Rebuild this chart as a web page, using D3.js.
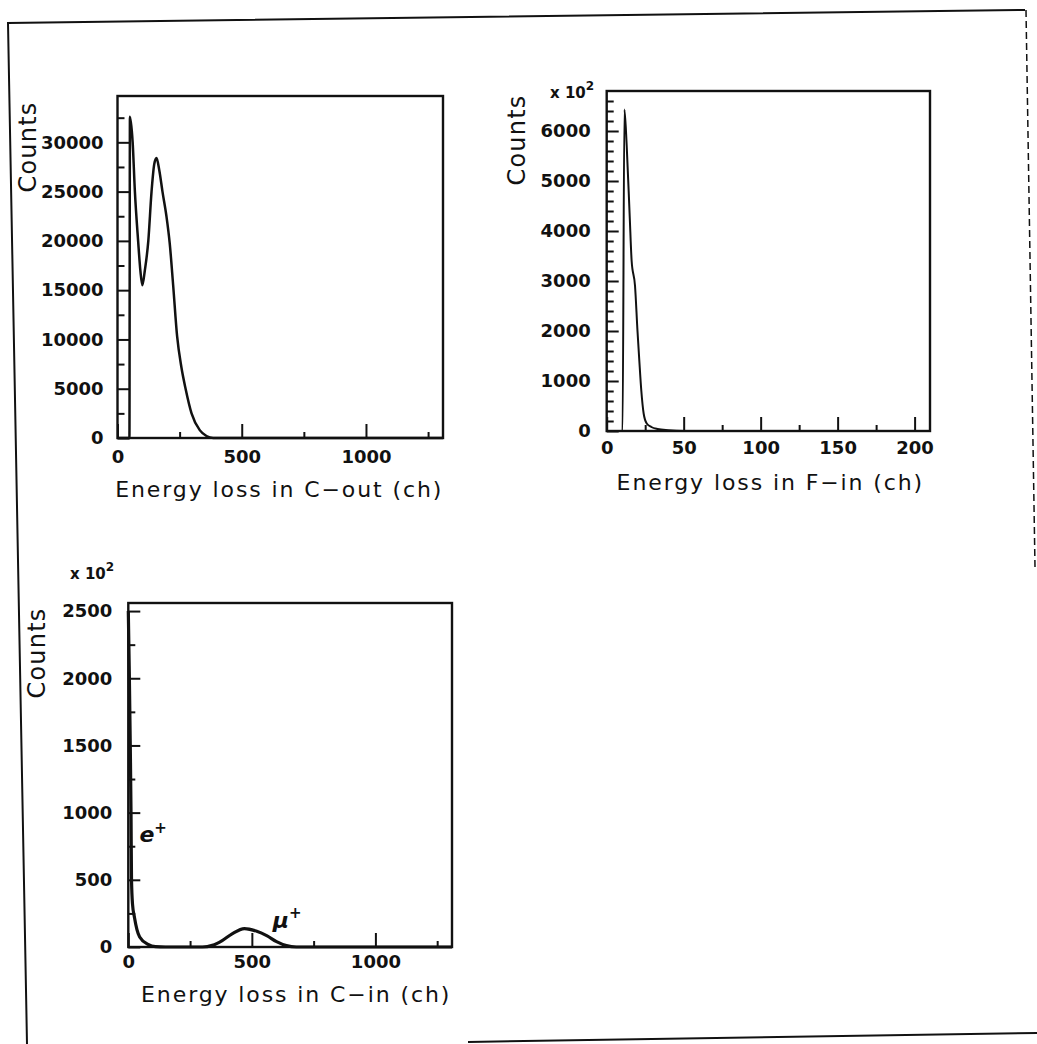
<!DOCTYPE html>
<html>
<head>
<meta charset="utf-8">
<script src="https://cdn.jsdelivr.net/npm/d3@7/dist/d3.min.js"></script>
<style>
  body { margin: 0; background: #fff; }
  svg text { font-family: "DejaVu Sans", sans-serif; fill: #111; }
</style>
</head>
<body>
<div id="canvas"></div>
<script>
"use strict"

/* all values, channel -> counts */

// energy loss in C-out
const coutChannels = [0, 48, 50, 61, 70, 83, 92, 100, 110, 124, 137, 148, 157, 168, 181, 197, 210, 224, 240, 257, 274, 298, 331, 358, 385, 1310];
const coutCounts   = [0, 0, 32600, 30000, 25000, 20000, 17000, 15500, 17000, 20000, 25000, 27800, 28400, 27200, 25000, 22500, 19800, 15500, 10300, 7200, 5000, 2500, 800, 200, 0, 0];
const coutXTicks = [0, 500, 1000];
const coutXMinor = [250, 750, 1250];
const coutYTicks = [0, 5000, 10000, 15000, 20000, 25000, 30000];
const coutYMinor = [2500, 7500, 12500, 17500, 22500, 27500, 32500];

// energy loss in F-in (counts in units of 10^2)
const finChannels = [0, 10.3, 11.5, 13, 15, 16.2, 18.4, 20, 21.2, 22.5, 24, 26, 29, 33, 40, 50, 210];
const finCounts   = [0, 0, 6430, 5700, 4250, 3400, 2900, 2000, 1400, 800, 350, 150, 80, 40, 15, 0, 0];
const finXTicks = [0, 50, 100, 150, 200];
const finXMinor = [25, 75, 125, 175];
const finYTicks = [0, 1000, 2000, 3000, 4000, 5000, 6000];
const finYMinor = d3.range(200, 6800, 200).filter(v => v % 1000 !== 0);

// energy loss in C-in (counts in units of 10^2)
const cinChannels = [0, 4, 8, 11, 13, 17, 25, 35, 46, 80, 110, 150, 300, 340, 380, 420, 470, 520, 560, 600, 640, 680, 1310];
const cinCounts   = [2500, 2050, 1500, 1000, 500, 320, 220, 130, 75, 20, 3, 0, 0, 12, 48, 98, 137, 117, 85, 40, 10, 0, 0];
const cinXTicks = [0, 500, 1000];
const cinXMinor = [250, 750, 1250];
const cinYTicks = [0, 500, 1000, 1500, 2000, 2500];
const cinYMinor = [250, 750, 1250, 1750, 2250];

let drawing = d3.select("#canvas")
    .append("svg")
    .attr("width", 1037)
    .attr("height", 1044);

// scanned page border
drawing.append("path")
    .attr("d", "M27,1044 L8,23 L1025,10")
    .attr("fill", "none").attr("stroke", "#111").attr("stroke-width", 2);
drawing.append("path")
    .attr("d", "M1026,10 L1035,567")
    .attr("fill", "none").attr("stroke", "#111").attr("stroke-width", 1.5)
    .attr("stroke-dasharray", "7,4");
drawing.append("path")
    .attr("d", "M468,1042 L1037,1033")
    .attr("fill", "none").attr("stroke", "#111").attr("stroke-width", 2);

function styleAxis(g) {
    g.select(".domain").remove();
    g.selectAll("line").attr("stroke", "#111").attr("stroke-width", 2);
    g.selectAll("text")
        .attr("font-family", "DejaVu Sans")
        .attr("font-weight", "bold")
        .attr("font-size", 18)
        .attr("fill", "#111");
}

function panel(p) {
    const x = d3.scaleLinear().domain(p.xDomain).range([p.left, p.right]);
    const y = d3.scaleLinear().domain(p.yDomain).range([p.bottom, p.top]);
    const g = drawing.append("g");

    // y axis, ticks pointing inward
    g.append("g").attr("transform", `translate(${p.left},0)`)
        .call(d3.axisLeft(y).tickValues(p.yTicks).tickSizeInner(-12).tickSizeOuter(0)
            .tickPadding(p.yPad).tickFormat(d3.format("d")))
        .call(styleAxis);
    g.append("g").attr("transform", `translate(${p.left},0)`)
        .call(d3.axisLeft(y).tickValues(p.yMinor).tickSizeInner(-7).tickSizeOuter(0).tickFormat(""))
        .call(styleAxis);

    // x axis
    g.append("g").attr("transform", `translate(0,${p.bottom})`)
        .call(d3.axisBottom(x).tickValues(p.xTicks).tickSizeInner(-14).tickSizeOuter(0)
            .tickPadding(p.xPad).tickFormat(d3.format("d")))
        .call(styleAxis);
    g.append("g").attr("transform", `translate(0,${p.bottom})`)
        .call(d3.axisBottom(x).tickValues(p.xMinor).tickSizeInner(-6).tickSizeOuter(0).tickFormat(""))
        .call(styleAxis);

    // frame
    g.append("rect")
        .attr("x", p.left).attr("y", p.top)
        .attr("width", p.right - p.left).attr("height", p.bottom - p.top)
        .attr("fill", "none").attr("stroke", "#111").attr("stroke-width", 2.4);

    // spectrum
    const pts = p.channels.map((c, i) => [c, p.counts[i]]);
    g.append("path")
        .datum(pts)
        .attr("fill", "none")
        .attr("stroke", "#111")
        .attr("stroke-width", p.lineWidth)
        .attr("stroke-linejoin", "round")
        .attr("d", d3.line().x(d => x(d[0])).y(d => y(d[1])).curve(d3.curveMonotoneX));

    // labels
    g.append("text")
        .attr("transform", `translate(${p.countsX},${p.countsY}) rotate(-90)`)
        .attr("text-anchor", "middle")
        .attr("dominant-baseline", "central")
        .attr("font-size", 24)
        .attr("letter-spacing", 1.2)
        .text("Counts");
    g.append("text")
        .attr("x", (p.left + p.right) / 2 + p.labelShift)
        .attr("y", p.labelY)
        .attr("text-anchor", "middle")
        .attr("font-size", 22)
        .attr("letter-spacing", 1.9)
        .text(p.xLabel);

    if (p.scale) {
        const t = g.append("text")
            .attr("x", p.scaleX).attr("y", p.scaleY)
            .attr("font-size", 15).attr("font-weight", "bold");
        t.append("tspan").text("x 10");
        t.append("tspan").attr("dy", -8).attr("font-size", 12).text("2");
    }
    return { x, y, g };
}

panel({
    left: 117.5, right: 443, top: 96, bottom: 438,
    xDomain: [0, 1310], yDomain: [0, 34700],
    xTicks: coutXTicks, xMinor: coutXMinor, yTicks: coutYTicks, yMinor: coutYMinor,
    xPad: 12, yPad: 14,
    channels: coutChannels, counts: coutCounts, lineWidth: 2.5,
    countsX: 28, countsY: 147,
    xLabel: "Energy loss in C\u2212out (ch)", labelY: 497, labelShift: -1,
    scale: false
});

panel({
    left: 606.7, right: 930, top: 91, bottom: 431,
    xDomain: [0, 210], yDomain: [0, 6800],
    xTicks: finXTicks, xMinor: finXMinor, yTicks: finYTicks, yMinor: finYMinor,
    xPad: 10, yPad: 16,
    channels: finChannels, counts: finCounts, lineWidth: 2,
    countsX: 517, countsY: 140,
    xLabel: "Energy loss in F\u2212in  (ch)", labelY: 490, labelShift: 2,
    scale: true, scaleX: 550, scaleY: 98
});

const cin = panel({
    left: 128.3, right: 452, top: 603, bottom: 947,
    xDomain: [0, 1310], yDomain: [0, 2560],
    xTicks: cinXTicks, xMinor: cinXMinor, yTicks: cinYTicks, yMinor: cinYMinor,
    xPad: 8, yPad: 16,
    channels: cinChannels, counts: cinCounts, lineWidth: 3.2,
    countsX: 37, countsY: 653,
    xLabel: "Energy loss in C\u2212in (ch)", labelY: 1002, labelShift: 6,
    scale: true, scaleX: 70, scaleY: 579
});

// handwritten particle labels
const e = cin.g.append("text")
    .attr("x", cin.x(45)).attr("y", cin.y(780))
    .attr("font-family", "DejaVu Serif").attr("font-style", "italic")
    .attr("font-weight", "bold").attr("font-size", 22);
e.append("tspan").text("e");
e.append("tspan").attr("dy", -9).attr("font-size", 15).text("+");

const mu = cin.g.append("text")
    .attr("x", cin.x(585)).attr("y", cin.y(140))
    .attr("font-family", "DejaVu Serif").attr("font-style", "italic")
    .attr("font-weight", "bold").attr("font-size", 22);
mu.append("tspan").text("\u03bc");
mu.append("tspan").attr("dy", -10).attr("font-size", 15).text("+");
</script>
</body>
</html>
